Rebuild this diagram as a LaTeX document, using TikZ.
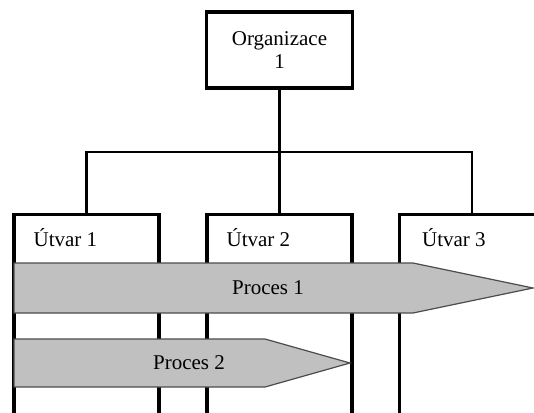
\documentclass[tikz,border=0pt]{standalone}
\usepackage{fontspec}
\setmainfont{Liberation Serif}
\usetikzlibrary{positioning}
\definecolor{procgray}{RGB}{192,192,192}
\tikzset{
 orgbox/.style={draw,line width=3.2pt,minimum width=146pt,minimum height=76pt,
  align=center,font=\fontsize{21}{23}\selectfont},
 unitbox/.style={draw,line width=3.2pt,minimum width=145pt,minimum height=230pt,anchor=north},
 unitlabel/.style={anchor=base west,inner sep=0pt,font=\fontsize{21}{24}\selectfont},
 link/.style={line width=2.4pt,line cap=rect},
 procarrow/.style={fill=procgray,draw=black!70,line width=1.2pt},
 proclabel/.style={inner sep=0pt,font=\fontsize{21}{24}\selectfont}
}

\begin{document}
\begin{tikzpicture}[x=1pt,y=-1pt,line join=miter]
 \useasboundingbox (0,0) rectangle (534,412);
 \begin{scope}
 \clip (0,0) rectangle (534,412);
 % organisation and its units
 \node[orgbox] (org) at (279.5,50) {Organizace\\1};
 \node[unitbox] (u1) at (86.5,213) {};
 \node[unitbox] (u2) at (279.5,213) {};
 \node[unitbox] (u3) at (472,213) {};
 \node[unitlabel] (l1) at ([xshift=21pt,yshift=-33pt]u1.north west) {Útvar 1};
 \node[unitlabel] (l2) at ([xshift=21pt,yshift=-33pt]u2.north west) {Útvar 2};
 \node[unitlabel] (l3) at ([xshift=24pt,yshift=-33pt]u3.north west) {Útvar 3};
 % tree lines
 \coordinate (bus) at (279.5,152);
 \draw[link] (org.south) -- (bus);
 \draw[link] (u1.north) |- (bus) -| (u3.north);
 \draw[link] (bus) -- (u2.north);
 % processes across the units
 \filldraw[procarrow] (14,263) -- (413,263) -- (533,288) -- (413,313) -- (14,313) -- cycle;
 \node[proclabel] (p1) at (268,288) {Proces 1};
 \filldraw[procarrow] (14,339) -- (265,339) -- (350,363) -- (265,387) -- (14,387) -- cycle;
 \node[proclabel] (p2) at (189,363) {Proces 2};
 \end{scope}
\end{tikzpicture}
\end{document}
